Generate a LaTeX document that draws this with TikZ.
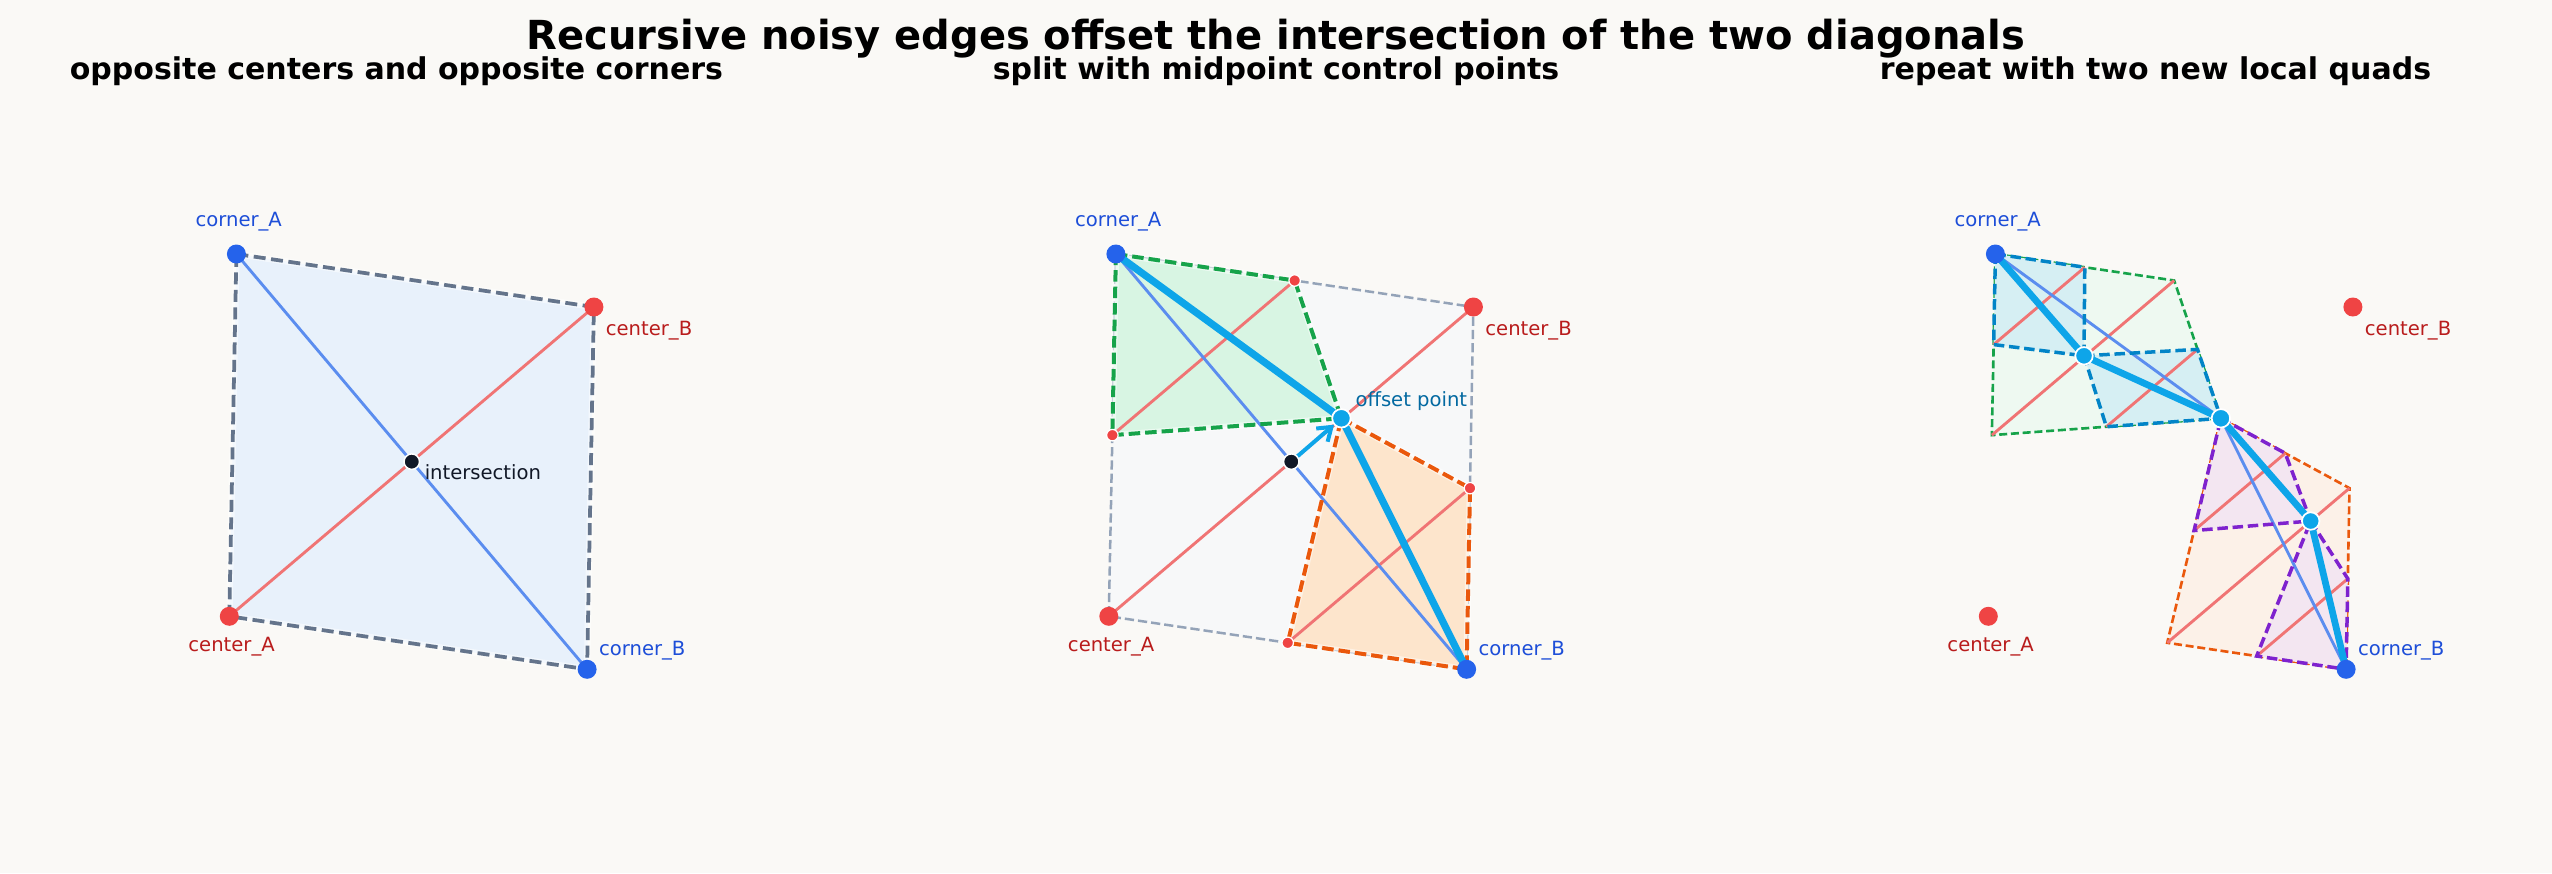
\documentclass[tikz,border=0pt]{standalone}
\usepackage{fontspec}
\setmainfont{DejaVu Sans}
\usetikzlibrary{calc,arrows.meta}
\definecolor{bg}{HTML}{FAF9F6}
\definecolor{dotblue}{HTML}{2563EB}
\definecolor{dotred}{HTML}{EF4444}
\definecolor{lblblue}{HTML}{1D4ED8}
\definecolor{lblred}{HTML}{B91C1C}
\definecolor{ink}{HTML}{111827}
\definecolor{lblsky}{HTML}{0369A1}
\definecolor{cyanline}{HTML}{0EA5E9}
\definecolor{pfill}{HTML}{E8F1FB}
\definecolor{pedge}{HTML}{64748B}
\definecolor{gfill}{HTML}{F7F8F9}
\definecolor{gedge}{HTML}{94A3B8}
\definecolor{grn}{HTML}{16A34A}
\definecolor{grnfill}{HTML}{D8F5E3}
\definecolor{grnlight}{HTML}{EEF9F1}
\definecolor{org}{HTML}{EA580C}
\definecolor{orgfill}{HTML}{FDE5CC}
\definecolor{orglight}{HTML}{FCF1E8}
\definecolor{skyedge}{HTML}{0284C7}
\definecolor{skyfill}{HTML}{D6EFF3}
\definecolor{purp}{HTML}{7E22CE}
\definecolor{purpfill}{HTML}{F3E6F1}
\definecolor{reddiag}{HTML}{F07474}
\definecolor{bluediag}{HTML}{5B8DEF}
\newcommand\mkpts[1]{%
  \coordinate (#1kA) at (236.4,254);
  \coordinate (#1cB) at (593.9,307);
  \coordinate (#1cA) at (229.3,616.3);
  \coordinate (#1kB) at (587.1,669.3);
  \coordinate (#1I) at ($(#1kA)!0.5!(#1kB)$);
  \coordinate (#1off) at (461.9,418.3);
  \coordinate (#1mt) at ($(#1kA)!0.5!(#1cB)$);
  \coordinate (#1mr) at ($(#1cB)!0.5!(#1kB)$);
  \coordinate (#1mb) at ($(#1kB)!0.5!(#1cA)$);
  \coordinate (#1ml) at ($(#1cA)!0.5!(#1kA)$);
}
\newcommand\mklabels[1]{%
  \node[lbl, text=lblblue, anchor=base] (#1kAl) at ($(#1kA)+(2.3,-27.3)$) {corner\_A};
  \node[lbl, text=lblred, anchor=base west] (#1cBl) at ($(#1cB)+(11.5,28)$) {center\_B};
  \node[lbl, text=lblred, anchor=base] (#1cAl) at ($(#1cA)+(2.3,35.4)$) {center\_A};
  \node[lbl, text=lblblue, anchor=base west] (#1kBl) at ($(#1kB)+(11.5,-14.3)$) {corner\_B};
}
\newcommand\mkcorners[1]{%
  \node[cornerdot] (#1kAd) at (#1kA) {};
  \node[cornerdot] (#1kBd) at (#1kB) {};
  \node[centerdot] (#1cAd) at (#1cA) {};
  \node[centerdot] (#1cBd) at (#1cB) {};
}
\begin{document}
\begin{tikzpicture}[x=0.4pt,y=-0.4pt,
  lbl/.style={inner sep=0pt, font=\fontsize{7.84}{9}\selectfont},
  subttl/.style={anchor=base, inner sep=0pt, font=\bfseries\fontsize{12}{14}\selectfont},
  cornerdot/.style={circle, fill=dotblue, inner sep=0pt, minimum size=7.6pt},
  centerdot/.style={circle, fill=dotred, inner sep=0pt, minimum size=7.6pt},
  isdot/.style={circle, fill=ink, draw=white, line width=0.6pt, inner sep=0pt, minimum size=6.2pt},
  offdot/.style={circle, fill=cyanline, draw=white, line width=0.7pt, inner sep=0pt, minimum size=7.4pt},
  middot/.style={circle, fill=dotred, draw=white, line width=0.5pt, inner sep=0pt, minimum size=4.6pt},
  diagred/.style={draw=reddiag, line width=1.15pt},
  diagblue/.style={draw=bluediag, line width=1.15pt},
  thickcyan/.style={draw=cyanline, line width=2.9pt, line join=round},
  outline1/.style={draw=pedge, line width=1.5pt, dash pattern=on 4.8pt off 2.2pt},
  outline2/.style={draw=gedge, line width=1pt, dash pattern=on 3.7pt off 1.6pt},
  grnline/.style={draw=grn, line width=1.6pt, dash pattern=on 4.6pt off 2pt},
  orgline/.style={draw=org, line width=1.6pt, dash pattern=on 4.6pt off 2pt},
  grnthin/.style={draw=grn, line width=1.05pt, dash pattern=on 3.2pt off 1.5pt},
  orgthin/.style={draw=org, line width=1.05pt, dash pattern=on 3.2pt off 1.5pt},
  skyline/.style={draw=skyedge, line width=1.4pt, dash pattern=on 4.2pt off 1.9pt},
  purpline/.style={draw=purp, line width=1.4pt, dash pattern=on 4.2pt off 1.9pt},
  halo/.style={draw=white, draw opacity=0.5, line width=2.6pt}
]
\fill[bg] (0,0) rectangle (2552,873);
\useasboundingbox (0,0) rectangle (2552,873);

% titles
\node[anchor=base, inner sep=0pt, font=\bfseries\fontsize{16}{19}\selectfont] (title) at (1276,49)
  {Recursive noisy edges offset the intersection of the two diagonals};
\node[subttl] (sub1) at (396.5,79) {opposite centers and opposite corners};
\node[subttl] (sub2) at (1276,79) {split with midpoint control points};
\node[subttl] (sub3) at (2155.5,79) {repeat with two new local quads};

% ---------------- panel 1
\begin{scope}
\mkpts{a}
\fill[pfill] (akA) -- (acB) -- (akB) -- (acA) -- cycle;
\draw[halo] (akA) -- (acB) -- (akB) -- (acA) -- cycle;
\draw[diagred] (acA) -- (acB);
\draw[diagblue] (akA) -- (akB);
\draw[outline1] (akA) -- (acB) -- (akB) -- (acA) -- cycle;
\mkcorners{a}
\node[isdot] (aId) at (aI) {};
\mklabels{a}
\node[lbl, text=ink, anchor=base west] (aIl) at ($(aI)+(12.5,17.4)$) {intersection};
\end{scope}

% ---------------- panel 2
\begin{scope}[shift={(879.5,0)}]
\mkpts{b}
\fill[gfill] (bkA) -- (bcB) -- (bkB) -- (bcA) -- cycle;
\draw[outline2] (bkA) -- (bcB) -- (bkB) -- (bcA) -- cycle;
\fill[grnfill] (bkA) -- (bmt) -- (boff) -- (bml) -- cycle;
\fill[orgfill] (boff) -- (bmr) -- (bkB) -- (bmb) -- cycle;
\draw[halo] (bkA) -- (bmt) -- (boff) -- (bml) -- cycle;
\draw[halo] (boff) -- (bmr) -- (bkB) -- (bmb) -- cycle;
\draw[diagred] (bcA) -- (bcB);
\draw[diagred] (bml) -- (bmt);
\draw[diagred] (bmb) -- (bmr);
\draw[diagblue] (bkA) -- (bkB);
\draw[grnline] (bkA) -- (bmt) -- (boff) -- (bml) -- cycle;
\draw[orgline] (boff) -- (bmr) -- (bkB) -- (bmb) -- cycle;
\draw[thickcyan] (bkA) -- (boff) -- (bkB);
\draw[draw=cyanline, line width=1.6pt, shorten >=3.9pt, -{Straight Barb[length=5pt,width=7pt,line width=1.6pt]}] (bI) -- (boff);
\node[middot] (bmtd) at (bmt) {};
\node[middot] (bmrd) at (bmr) {};
\node[middot] (bmbd) at (bmb) {};
\node[middot] (bmld) at (bml) {};
\node[isdot] (bId) at (bI) {};
\node[offdot] (boffd) at (boff) {};
\mkcorners{b}
\mklabels{b}
\node[lbl, text=lblsky, anchor=base west] (boffl) at ($(boff)+(13.6,-11.6)$) {offset point};
\end{scope}

% ---------------- panel 3
\begin{scope}[shift={(1759,0)}]
\mkpts{c}
\coordinate (coffA) at (325,355.8);
\coordinate (coffB) at (551.7,521);
\coordinate (cg1) at ($(ckA)!0.5!(cmt)$);
\coordinate (cg2) at ($(cmt)!0.5!(coff)$);
\coordinate (cg3) at ($(coff)!0.5!(cml)$);
\coordinate (cg4) at ($(cml)!0.5!(ckA)$);
\coordinate (co1) at ($(coff)!0.5!(cmr)$);
\coordinate (co2) at ($(cmr)!0.5!(ckB)$);
\coordinate (co3) at ($(ckB)!0.5!(cmb)$);
\coordinate (co4) at ($(cmb)!0.5!(coff)$);
\fill[grnlight] (ckA) -- (cmt) -- (coff) -- (cml) -- cycle;
\fill[orglight] (coff) -- (cmr) -- (ckB) -- (cmb) -- cycle;
\draw[grnthin] (ckA) -- (cmt) -- (coff) -- (cml) -- cycle;
\draw[orgthin] (coff) -- (cmr) -- (ckB) -- (cmb) -- cycle;
\fill[skyfill] (ckA) -- (cg1) -- (coffA) -- (cg4) -- cycle;
\fill[skyfill] (coffA) -- (cg2) -- (coff) -- (cg3) -- cycle;
\fill[purpfill] (coff) -- (co1) -- (coffB) -- (co4) -- cycle;
\fill[purpfill] (coffB) -- (co2) -- (ckB) -- (co3) -- cycle;
\draw[diagred] (cml) -- (cmt);
\draw[diagred] (cg4) -- (cg1);
\draw[diagred] (cg3) -- (cg2);
\draw[diagred] (cmb) -- (cmr);
\draw[diagred] (co4) -- (co1);
\draw[diagred] (co3) -- (co2);
\draw[diagblue] (ckA) -- (coff);
\draw[diagblue] (coff) -- (ckB);
\draw[skyline] (ckA) -- (cg1) -- (coffA) -- (cg4) -- cycle;
\draw[skyline] (coffA) -- (cg2) -- (coff) -- (cg3) -- cycle;
\draw[purpline] (coff) -- (co1) -- (coffB) -- (co4) -- cycle;
\draw[purpline] (coffB) -- (co2) -- (ckB) -- (co3) -- cycle;
\draw[thickcyan, line width=2.7pt] (ckA) -- (coffA) -- (coff);
\draw[thickcyan, line width=2.7pt] (coff) -- (coffB) -- (ckB);
\node[offdot, minimum size=7pt] (coffAd) at (coffA) {};
\node[offdot, minimum size=7pt] (coffBd) at (coffB) {};
\node[offdot] (coffd) at (coff) {};
\mkcorners{c}
\mklabels{c}
\end{scope}
\end{tikzpicture}
\end{document}
